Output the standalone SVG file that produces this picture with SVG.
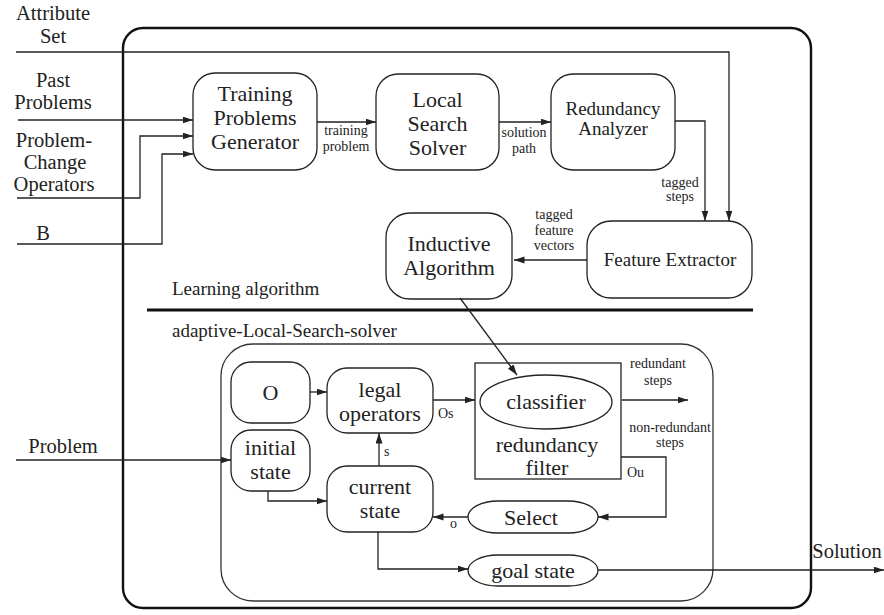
<svg xmlns="http://www.w3.org/2000/svg" width="884" height="615" viewBox="0 0 884 615" font-family="Liberation Serif">
  <defs>
    <marker id="arrow" markerUnits="userSpaceOnUse" markerWidth="11" markerHeight="8" refX="10.5" refY="3.5" orient="auto">
      <path d="M0,0 L10.5,3.5 L0,7 z" fill="#222"/>
    </marker>
    <style>
      text { fill: #222; text-anchor: middle; }
      .big { font-size: 22px; }
      .side { font-size: 20.5px; }
      .mid { font-size: 19px; }
      .small { font-size: 14px; }
      .lbl { text-anchor: start; }
      .box { fill: #fff; stroke: #222; stroke-width: 1.3; }
      .frame { fill: none; stroke: #111; stroke-width: 2.4; }
      .inner { fill: none; stroke: #333; stroke-width: 1.3; }
      .wire { fill: none; stroke: #222; stroke-width: 1.3; }
      .arr { marker-end: url(#arrow); }
    </style>
  </defs>
  <rect width="884" height="615" fill="#fff"/>

  <!-- outer system frame -->
  <rect class="frame" x="123" y="28" width="688" height="580" rx="20"/>
  <!-- divider between learning part and solver part -->
  <line x1="147" y1="310" x2="753" y2="310" stroke="#111" stroke-width="3.2"/>
  <!-- adaptive solver container -->
  <rect class="inner" x="221" y="344" width="492" height="257" rx="32"/>

  <!-- section labels -->
  <text class="mid lbl" x="172" y="295">Learning algorithm</text>
  <text class="mid lbl" x="172" y="337">adaptive-Local-Search-solver</text>

  <!-- external inputs and outputs -->
  <g id="inputs">
    <text class="side" x="53" y="20">Attribute</text>
    <text class="side" x="53" y="43">Set</text>
    <text class="side" x="53" y="87">Past</text>
    <text class="side" x="53" y="109">Problems</text>
    <text class="side" x="54" y="147">Problem-</text>
    <text class="side" x="55" y="169">Change</text>
    <text class="side" x="54" y="191">Operators</text>
    <text class="side" x="43" y="240">B</text>
    <text class="side" x="63" y="453">Problem</text>
    <text class="side" x="847" y="558">Solution</text>
  </g>

  <g id="training-generator">
    <rect class="box" x="193" y="73" width="124" height="97" rx="22"/>
    <text class="big" x="255" y="101">Training</text>
    <text class="big" x="255" y="125">Problems</text>
    <text class="big" x="255" y="149">Generator</text>
  </g>

  <g id="local-search-solver">
    <rect class="box" x="376" y="74" width="123" height="96" rx="22"/>
    <text class="big" x="437.5" y="107">Local</text>
    <text class="big" x="437.5" y="131">Search</text>
    <text class="big" x="437.5" y="155">Solver</text>
  </g>

  <g id="redundancy-analyzer">
    <rect class="box" x="551" y="74" width="124" height="96" rx="22"/>
    <text class="mid" x="613" y="115">Redundancy</text>
    <text class="mid" x="613" y="135">Analyzer</text>
  </g>

  <g id="feature-extractor">
    <rect class="box" x="587" y="221" width="165" height="77" rx="24"/>
    <text class="mid" x="670" y="266">Feature Extractor</text>
  </g>

  <g id="inductive-algorithm">
    <rect class="box" x="386" y="213" width="126" height="86" rx="24"/>
    <text class="big" x="449" y="251">Inductive</text>
    <text class="big" x="449" y="275">Algorithm</text>
  </g>

  <g id="operators">
    <rect class="box" x="231" y="362" width="79" height="61" rx="20"/>
    <text class="big" x="270.5" y="400">O</text>
  </g>

  <g id="legal-operators">
    <rect class="box" x="327" y="368" width="106" height="65" rx="20"/>
    <text class="big" x="380" y="397">legal</text>
    <text class="big" x="380" y="421">operators</text>
  </g>

  <g id="initial-state">
    <rect class="box" x="231" y="430" width="79" height="61" rx="20"/>
    <text class="big" x="270.5" y="455">initial</text>
    <text class="big" x="270.5" y="479">state</text>
  </g>

  <g id="current-state">
    <rect class="box" x="327" y="466" width="106" height="66" rx="20"/>
    <text class="big" x="380" y="494">current</text>
    <text class="big" x="380" y="518">state</text>
  </g>

  <g id="redundancy-filter">
    <rect class="box" x="475" y="363" width="146" height="116" rx="0"/>
    <text class="big" x="547" y="452">redundancy</text>
    <text class="big" x="547" y="475">filter</text>
  </g>

  <g id="classifier">
    <ellipse class="box" cx="546" cy="402" rx="66" ry="27"/>
    <text class="big" x="546" y="409">classifier</text>
  </g>

  <g id="select">
    <rect class="box" x="468" y="501" width="130" height="32" rx="30" ry="16"/>
    <text class="big" x="531" y="525">Select</text>
  </g>

  <g id="goal-state">
    <rect class="box" x="468" y="555" width="130" height="31" rx="30" ry="15.5"/>
    <text class="big" x="533" y="578">goal state</text>
  </g>

  <!-- connectors -->
  <g id="connectors">
    <polyline class="wire arr" points="16,52 729,52 729,221"/>
    <polyline class="wire arr" points="18,120 193,120"/>
    <polyline class="wire arr" points="17,198 140,198 140,136 193,136"/>
    <polyline class="wire arr" points="17,244 162,244 162,154 193,154"/>
    <polyline class="wire arr" points="317,122 376,122"/>
    <polyline class="wire arr" points="499,122 551,122"/>
    <polyline class="wire arr" points="675,121 705,121 705,221"/>
    <polyline class="wire arr" points="587,260 514,260"/>
    <polyline class="wire arr" points="460,298 517,375"/>
    <polyline class="wire arr" points="16,460 231,460"/>
    <polyline class="wire arr" points="310,392 327,392"/>
    <polyline class="wire arr" points="433,400 475,400"/>
    <polyline class="wire arr" points="379,466 379,433"/>
    <polyline class="wire arr" points="268,491 268,501 327,501"/>
    <polyline class="wire arr" points="622,400 688,400"/>
    <polyline class="wire arr" points="621,457 666,457 666,517 598,517"/>
    <polyline class="wire arr" points="468,517 433,517"/>
    <polyline class="wire arr" points="378,532 378,569 468,569"/>
    <polyline class="wire arr" points="598,570 884,570"/>

    <!-- connector labels -->
    <text class="small" x="346" y="135">training</text>
    <text class="small" x="346" y="151">problem</text>
    <text class="small" x="524" y="137">solution</text>
    <text class="small" x="524" y="153">path</text>
    <text class="small" x="680" y="187">tagged</text>
    <text class="small" x="680" y="201">steps</text>
    <text class="small" x="554" y="219">tagged</text>
    <text class="small" x="554" y="235">feature</text>
    <text class="small" x="554" y="250">vectors</text>
    <text class="small lbl" x="438" y="418">Os</text>
    <text class="small lbl" x="384" y="456">s</text>
    <text class="small lbl" x="450" y="528">o</text>
    <text class="small" x="658" y="368">redundant</text>
    <text class="small" x="658" y="385">steps</text>
    <text class="small" x="670" y="432">non-redundant</text>
    <text class="small" x="670" y="447">steps</text>
    <text class="small lbl" x="627" y="477">Ou</text>
  </g>
</svg>
